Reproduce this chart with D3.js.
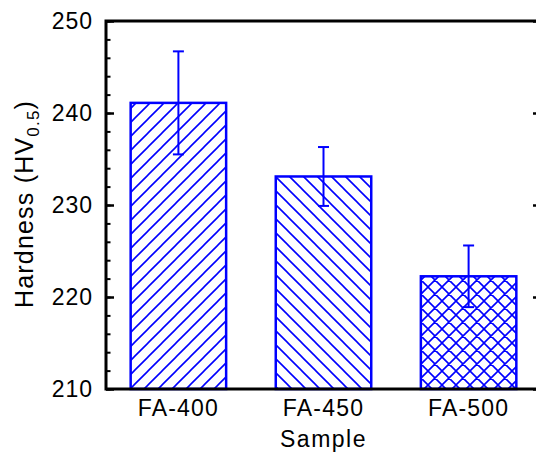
<!DOCTYPE html>
<html>
<head>
<meta charset="utf-8">
<script src="https://cdn.jsdelivr.net/npm/d3@7"></script>
<style>
  body { margin: 0; background: #fff; overflow: hidden; }
  svg { display: block; }
  .tick text { font-family: "Liberation Sans", Arial, sans-serif; }
</style>
</head>
<body>
<div class="canva"></div>
<script>
// data
var samples = ["FA-400", "FA-450", "FA-500"];
var hardness = [241.1, 233.1, 222.25];
var errors = [5.6, 3.2, 3.35];
var patterns = ["hatchFwd", "hatchBack", "hatchCross"];
var majorTicks = [210, 220, 230, 240, 250];
var minorTicks = d3.range(210, 251, 2);

const W = 536, H = 456;
// right spine sits just outside the window, only its inward ticks show
const margin = {top: 21, right: -5, bottom: 67, left: 106};
const plotW = W - margin.left - margin.right;
const plotH = H - margin.top - margin.bottom;
const blue = "#0000ff";
const font = "'Liberation Sans', Arial, sans-serif";

const svg = d3.select(".canva").append("svg")
    .attr("width", W)
    .attr("height", H);

// hatch patterns
const defs = svg.append("defs");
function hatch(id, d) {
    defs.append("pattern")
        .attr("id", id)
        .attr("patternUnits", "userSpaceOnUse")
        .attr("width", 14)
        .attr("height", 14)
      .append("path")
        .attr("d", d)
        .attr("stroke", blue)
        .attr("stroke-width", 1.6)
        .attr("fill", "none");
}
var fwd = "M0,14 L14,0 M-3.5,3.5 L3.5,-3.5 M10.5,17.5 L17.5,10.5";
var back = "M0,0 L14,14 M-3.5,10.5 L3.5,17.5 M10.5,-3.5 L17.5,3.5";
hatch("hatchFwd", fwd);
hatch("hatchBack", back);
hatch("hatchCross", fwd + " " + back);

const g = svg.append("g")
    .attr("transform", `translate(${margin.left}, ${margin.top})`);

var x = d3.scaleBand()
    .domain(samples)
    .range([0, plotW])
    .paddingInner(0.342)
    .paddingOuter(0.17);

var y = d3.scaleLinear()
    .domain([210, 250])
    .range([plotH, 0]);

// bars
g.selectAll(".bar")
    .data(hardness)
    .enter()
    .append("rect")
    .attr("class", "bar")
    .attr("x", (d, i) => x(samples[i]))
    .attr("y", d => y(d))
    .attr("width", x.bandwidth())
    .attr("height", d => plotH - y(d))
    .attr("fill", (d, i) => "url(#" + patterns[i] + ")")
    .attr("stroke", blue)
    .attr("stroke-width", 2.5);

// error bars
var eb = g.selectAll(".err")
    .data(hardness)
    .enter()
    .append("g")
    .attr("class", "err")
    .attr("stroke", blue)
    .attr("stroke-width", 2);
var cx = (i) => x(samples[i]) + x.bandwidth() / 2;
eb.append("line")
    .attr("x1", (d, i) => cx(i)).attr("x2", (d, i) => cx(i))
    .attr("y1", (d, i) => y(d + errors[i])).attr("y2", (d, i) => y(d - errors[i]));
eb.append("line")
    .attr("x1", (d, i) => cx(i) - 5.5).attr("x2", (d, i) => cx(i) + 5.5)
    .attr("y1", (d, i) => y(d + errors[i])).attr("y2", (d, i) => y(d + errors[i]));
eb.append("line")
    .attr("x1", (d, i) => cx(i) - 5.5).attr("x2", (d, i) => cx(i) + 5.5)
    .attr("y1", (d, i) => y(d - errors[i])).attr("y2", (d, i) => y(d - errors[i]));

// axes: minor ticks, then major ticks with labels
g.append("g")
    .call(d3.axisLeft(y).tickValues(minorTicks).tickSize(-4.5).tickFormat(""))
    .call(a => a.select(".domain").remove())
    .selectAll("line").attr("stroke-width", 2);

var yAxis = g.append("g")
    .call(d3.axisLeft(y).tickValues(majorTicks).tickSize(-8).tickPadding(13).tickFormat(d3.format("d")));
yAxis.select(".domain").remove();
yAxis.selectAll("line").attr("stroke-width", 2.5);
yAxis.selectAll("text")
    .style("font-size", "23px")
    .style("letter-spacing", "1px")
    .attr("fill", "#000");

var yRight = g.append("g")
    .attr("transform", `translate(${plotW}, 0)`)
    .call(d3.axisRight(y).tickValues(majorTicks).tickSize(-8).tickFormat(""));
yRight.select(".domain").remove();
yRight.selectAll("line").attr("stroke-width", 2.5);

var xAxis = g.append("g")
    .attr("transform", `translate(0, ${plotH})`)
    .call(d3.axisBottom(x).tickSize(0).tickPadding(11));
xAxis.select(".domain").remove();
xAxis.selectAll("text")
    .style("font-size", "23px")
    .style("letter-spacing", "1.2px")
    .attr("fill", "#000");

// frame
g.append("rect")
    .attr("width", plotW)
    .attr("height", plotH)
    .attr("fill", "none")
    .attr("stroke", "#000")
    .attr("stroke-width", 3);

// axis titles
svg.append("text")
    .attr("x", margin.left + plotW / 2)
    .attr("y", 447)
    .attr("text-anchor", "middle")
    .style("font-family", font)
    .style("font-size", "23px")
    .style("letter-spacing", "1.5px")
    .text("Sample");

var yTitle = svg.append("text")
    .attr("transform", "translate(33, 204) rotate(-90)")
    .attr("text-anchor", "middle")
    .style("font-family", font)
    .style("font-size", "25px")
    .style("letter-spacing", "1.2px");
yTitle.append("tspan").text("Hardness (HV");
yTitle.append("tspan").attr("dy", 6).style("font-size", "17px").text("0.5");
yTitle.append("tspan").attr("dy", -6).text(")");
</script>
</body>
</html>
